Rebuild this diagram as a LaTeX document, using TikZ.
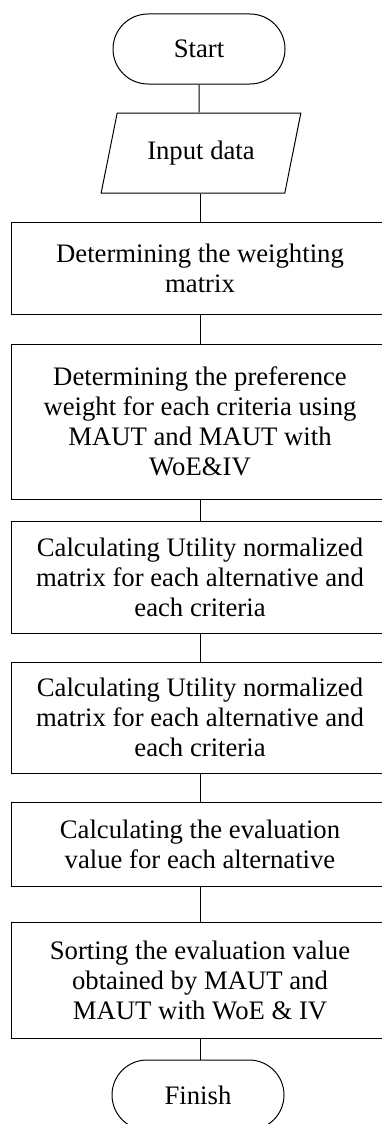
\documentclass[tikz,border=0pt]{standalone}
\usepackage{fontspec}
\setmainfont{Liberation Serif}
\usetikzlibrary{shapes.misc,shapes.geometric}
\begin{document}
\begin{tikzpicture}[x=1pt,y=-1pt,
  terminal/.style={draw,line width=1pt,rounded rectangle,minimum width=172pt,minimum height=70pt,inner sep=0pt},
  iobox/.style={draw,line width=1pt,trapezium,trapezium left angle=67,trapezium right angle=113,trapezium stretches=true,minimum width=200pt,minimum height=80pt,inner sep=0pt},
  stepbox/.style={draw,line width=1pt,rectangle,minimum width=378pt,align=center,inner sep=0pt},
  every node/.style={font=\fontsize{26.7}{30}\selectfont}]
\clip (0,0) rectangle (382,1124);
\node[terminal] (start) at (199,49) {Start};
\node[iobox] (input) at (201,153) {Input data};
\node[stepbox,minimum height=92pt] (weight) at (200,268) {Determining the weighting\\matrix};
\node[stepbox,minimum height=155pt] (pref) at (200,421.5) {Determining the preference\\weight for each criteria using\\MAUT and MAUT with\\WoE\&IV};
\node[stepbox,minimum height=112pt] (util1) at (200,577) {Calculating Utility normalized\\matrix for each alternative and\\each criteria};
\node[stepbox,minimum height=111pt] (util2) at (200,717.5) {Calculating Utility normalized\\matrix for each alternative and\\each criteria};
\node[stepbox,minimum height=84pt] (eval) at (200,844) {Calculating the evaluation\\value for each alternative};
\node[stepbox,minimum height=116pt] (sort) at (200,980) {Sorting the evaluation value\\obtained by MAUT and\\MAUT with WoE \& IV};
\node[terminal] (finish) at (198,1095) {Finish};

\path[draw,line width=1pt,-] (start) -- (start|-input.north);
\path[draw,line width=1pt,-] (input.south-|weight) -- (weight);
\path[draw,line width=1pt,-] (weight) -- (pref);
\path[draw,line width=1pt,-] (pref) -- (util1);
\path[draw,line width=1pt,-] (util1) -- (util2);
\path[draw,line width=1pt,-] (util2) -- (eval);
\path[draw,line width=1pt,-] (eval) -- (sort);
\path[draw,line width=1pt,-] (sort) -- (sort|-finish.north);
\end{tikzpicture}
\end{document}
